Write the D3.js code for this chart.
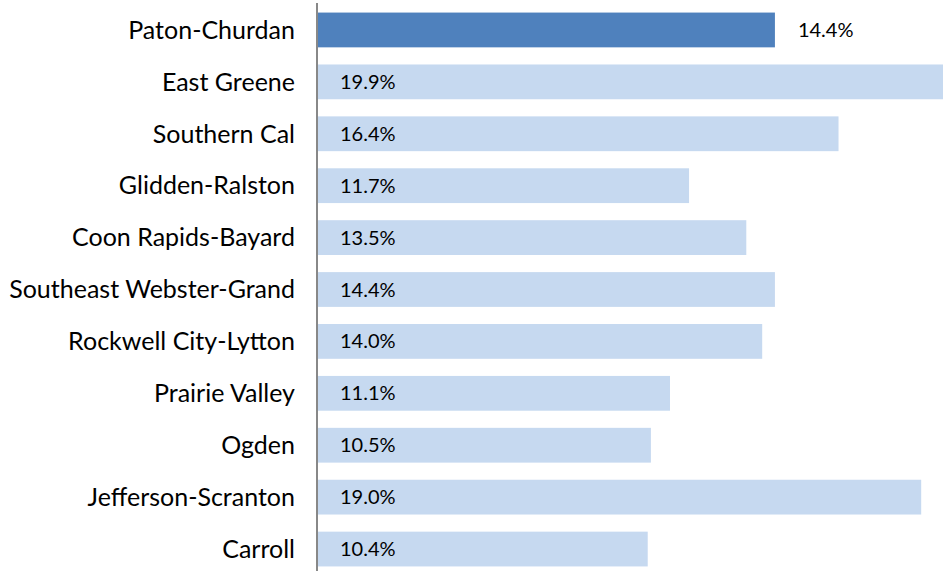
<!DOCTYPE html>
<html>
<head>
<meta charset="utf-8">
<script src="https://cdn.jsdelivr.net/npm/d3@7"></script>
<style>
  body { margin: 0; background: #fff; }
  text { font-family: Lato, "Open Sans", sans-serif; fill: #000; }
</style>
</head>
<body>
<div id="chart"></div>
<script>
let districts = ["Paton-Churdan", "East Greene", "Southern Cal", "Glidden-Ralston", "Coon Rapids-Bayard",
  "Southeast Webster-Grand", "Rockwell City-Lytton", "Prairie Valley", "Ogden", "Jefferson-Scranton", "Carroll"];
let rates = [14.4, 19.9, 16.4, 11.7, 13.5, 14.4, 14.0, 11.1, 10.5, 19.0, 10.4];
let highlight = "Paton-Churdan";

let data = districts.map((d, i) => ({name: d, value: rates[i]}));

let width = 943,
    height = 571,
    left = 317;

let x = d3.scaleLinear()
    .domain([0, 20])
    .range([left, left + 636]);

let y = d3.scaleBand()
    .domain(districts)
    .range([4, 575])
    .paddingInner(0.33)
    .paddingOuter(0.165);

let svg = d3.select("#chart")
    .append("svg")
    .attr("width", width)
    .attr("height", height);

svg.selectAll("rect.bar")
    .data(data)
    .enter().append("rect")
    .attr("class", "bar")
    .attr("x", x(0))
    .attr("y", d => y(d.name))
    .attr("width", d => x(d.value) - x(0))
    .attr("height", y.bandwidth())
    .style("fill", d => d.name == highlight ? "#4f81bd" : "#c6d9f0");

// axis line only, no ticks
svg.append("line")
    .attr("x1", left).attr("x2", left)
    .attr("y1", 3).attr("y2", height)
    .style("stroke", "#888")
    .style("stroke-width", 2);

svg.selectAll("text.cat")
    .data(data)
    .enter().append("text")
    .attr("class", "cat")
    .attr("x", left - 22)
    .attr("y", d => y(d.name) + y.bandwidth() / 2)
    .attr("dy", "0.35em")
    .attr("text-anchor", "end")
    .style("font-size", "25px")
    .text(d => d.name);

svg.selectAll("text.val")
    .data(data)
    .enter().append("text")
    .attr("class", "val")
    .attr("x", d => d.name == highlight ? x(d.value) + 23 : left + 23)
    .attr("y", d => y(d.name) + y.bandwidth() / 2)
    .attr("dy", "0.35em")
    .style("font-size", "20px")
    .text(d => d.value.toFixed(1) + "%");
</script>
</body>
</html>
